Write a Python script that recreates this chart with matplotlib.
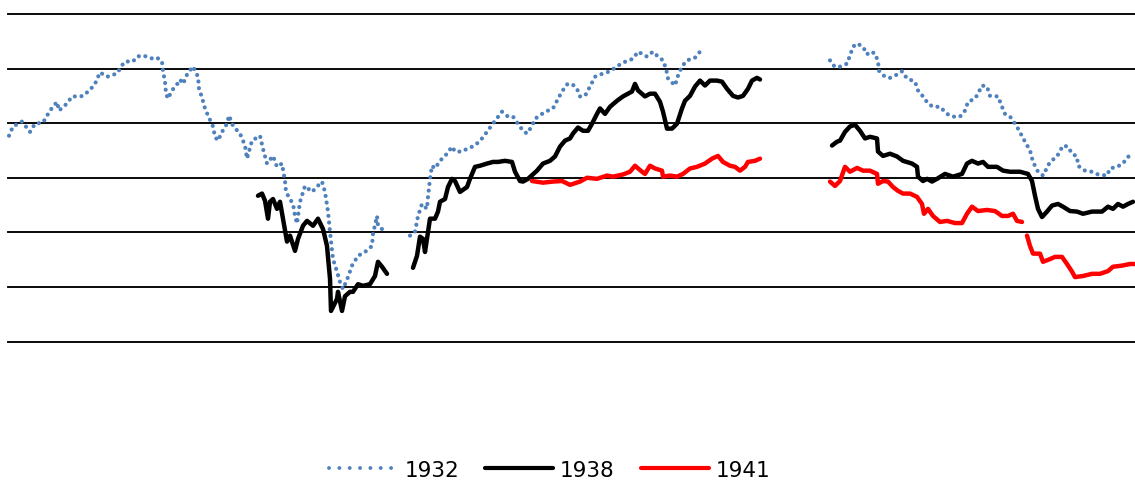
import numpy as np
import matplotlib
matplotlib.use("Agg")
import matplotlib.pyplot as plt
from matplotlib.lines import Line2D
from matplotlib import font_manager

nan = np.nan

# ---- data (day index, indexed level) ----
days_1932 = [1, 5, 14, 22, 27, 35, 42, 49, 51, 59, 64, 72, 75, 82, 87, 92, 99, 109, 114, 117,
             125, 129, 135, 145, 149, 154, 155, 157, 158, 160, 164, 169, 172, 175, 179, 185, 190,
             191, 194, 197, 200, 205, 207, 210, 214, 219, 221, 225, 232, 237, 239, 244, 252, 255,
             259, 265, 269, 274, 277, 278, 282, 285, 287, 289, 292, 297, 304, 314, 317, 320, 322,
             325, 329, 332, 335, 340, 344, 350, 357, 364, 365, 369, 370, 374, 377,
             390,
             402, 407, 410, 414, 419, 420, 422, 424, 427, 432, 439, 444, 447, 454, 459, 467, 474,
             479, 484, 494, 500, 505, 510, 515, 519, 524, 527, 534, 540, 545, 549, 554, 559, 564,
             569, 572, 577, 582, 587, 595, 602, 609, 615, 625, 630, 639, 645, 650, 655, 658, 660,
             667, 670, 674, 679, 687, 692,
             760,
             822, 825, 830, 839, 842, 845, 849, 855, 859, 862, 867, 870, 871, 877, 882, 889, 894,
             899, 907, 910, 915, 920, 925, 932, 939, 945, 952, 957, 960, 967, 970, 974, 979, 982,
             990, 994, 997, 1002, 1005, 1010, 1017, 1022, 1025, 1030, 1035, 1042, 1049, 1055, 1060,
             1064, 1069, 1070, 1077, 1084, 1090, 1099, 1102, 1109, 1115, 1119, 1125]
vals_1932 = [107.7, 109.4, 110.3, 108.4, 109.9, 110.1, 112.3, 113.9, 112.3, 113.6, 114.9, 114.9,
             115.0, 116.1, 117.2, 119.3, 118.5, 119.1, 120.6, 121.3, 121.3, 122.2, 122.4, 121.8,
             122.0, 121.3, 119.5, 117.6, 115.4, 114.5, 116.0, 117.1, 118.0, 117.2, 118.9, 120.4,
             118.5, 116.3, 114.7, 112.7, 111.4, 109.4, 107.5, 106.8, 108.4, 109.9, 111.4, 109.5,
             108.1, 105.9, 103.5, 106.8, 107.7, 105.3, 102.6, 104.0, 102.0, 102.6, 99.4, 97.4,
             96.1, 95.2, 93.0, 91.6, 95.6, 98.5, 97.4, 99.3, 97.4, 93.8, 90.1, 85.1, 82.8, 80.9,
             79.6, 81.8, 83.9, 85.7, 86.4, 87.5, 89.7, 93.0, 91.2, 90.6, 90.1,
             nan,
             89.4, 90.1, 93.0, 95.2, 94.3, 96.5, 99.8, 102.2, 101.7, 103.1, 104.4, 105.7, 104.8,
             104.8, 105.3, 105.9, 107.2, 108.4, 109.7, 112.1, 111.2, 111.2, 109.9, 108.6, 108.1,
             109.5, 110.8, 111.7, 112.3, 112.7, 114.1, 115.8, 117.1, 117.2, 116.3, 114.9, 115.0,
             116.7, 118.5, 119.1, 119.5, 120.4, 121.1, 121.8, 123.1, 122.2, 123.1, 122.2, 121.5,
             120.0, 118.2, 116.9, 118.7, 120.4, 121.5, 122.0, 123.1,
             nan,
             121.5, 120.6, 120.2, 120.9, 122.4, 124.0, 124.6, 124.0, 122.6, 123.1, 122.8, 121.3,
             119.6, 118.5, 118.3, 118.9, 119.5, 118.2, 117.6, 116.0, 114.9, 113.6, 113.0, 113.0,
             111.7, 111.2, 111.2, 112.3, 113.9, 114.5, 115.4, 116.9, 116.7, 115.0, 114.9, 113.0,
             111.7, 111.2, 110.5, 109.0, 106.6, 105.0, 102.9, 101.1, 100.4, 102.9, 103.9, 105.9,
             105.7, 104.4, 103.9, 102.2, 101.3, 101.1, 100.6, 100.4, 101.7, 102.0, 102.6, 103.7,
             104.4]

days_1938 = [250, 254, 257, 260, 262, 265, 269, 272, 275, 279, 282, 287, 290, 295, 299, 305, 310,
             315, 319, 322, 323, 329, 330, 334, 337, 342, 345, 350, 355, 362, 367, 370, 374, 379,
             392,
             405, 409, 412, 415, 417, 420, 422, 427, 430, 432, 437, 440, 444, 447, 452, 459, 462,
             467, 472, 479, 485, 490, 497, 504, 507, 512, 515, 520, 529, 535, 542, 547, 552, 557,
             562, 565, 570, 575, 580, 584, 589, 592, 597, 602, 609, 615, 624, 627, 630, 637, 642,
             647, 652, 655, 659, 664, 669, 674, 677, 682, 687, 692, 697, 702, 709, 714, 719, 725,
             730, 735, 740, 744, 749, 752,
             790,
             824, 829, 832, 837, 842, 847, 852, 857, 862, 869, 870, 875, 882, 889, 895, 904, 909,
             910, 915, 919, 924, 929, 937, 945, 954, 959, 964, 970, 975, 980, 989, 995, 1002, 1012,
             1020, 1024, 1027, 1030, 1034, 1039, 1044, 1050, 1055, 1062, 1069, 1075, 1084, 1094,
             1100, 1105, 1110, 1115, 1120, 1125]
vals_1938 = [96.7, 97.1, 95.8, 92.5, 95.6, 96.1, 94.3, 95.6, 92.5, 88.3, 89.4, 86.6, 88.8, 91.2,
             92.1, 91.2, 92.5, 90.6, 87.5, 81.5, 75.6, 77.8, 79.1, 75.6, 78.3, 79.1, 79.1, 80.5,
             80.2, 80.5, 82.0, 84.6, 83.7, 82.4,
             nan,
             83.5, 85.7, 89.2, 88.8, 86.4, 90.1, 92.5, 92.5, 93.8, 95.6, 96.1, 98.3, 99.8, 99.4,
             97.4, 98.3, 99.8, 102.0, 102.2, 102.6, 102.9, 102.9, 103.1, 102.9, 101.1, 99.4, 99.3,
             99.8, 101.3, 102.6, 103.1, 103.9, 105.7, 106.8, 107.2, 108.1, 109.2, 108.6, 108.6,
             109.9, 111.7, 112.7, 111.7, 113.0, 114.1, 114.9, 115.8, 117.2, 116.0, 114.9, 115.4,
             115.4, 113.9, 112.1, 109.0, 109.0, 109.9, 112.7, 114.1, 115.0, 116.7, 117.8, 116.9,
             117.8, 117.8, 117.6, 116.3, 115.0, 114.7, 115.0, 116.3, 117.8, 118.3, 118.0,
             nan,
             105.9, 106.6, 106.8, 108.4, 109.4, 109.7, 108.6, 107.2, 107.5, 107.2, 104.8, 104.0,
             104.4, 103.9, 103.1, 102.6, 102.0, 100.2, 99.4, 99.8, 99.3, 99.8, 100.7, 100.2,
             100.7, 102.6, 103.1, 102.6, 102.9, 102.0, 102.0, 101.3, 101.1, 101.1, 100.7, 99.4,
             96.7, 94.3, 92.8, 93.8, 94.9, 95.2, 94.7, 93.9, 93.8, 93.4, 93.8, 93.8, 94.7, 94.3,
             95.2, 94.7, 95.2, 95.6]

days_1941 = [524, 535, 545, 554, 562, 572, 579, 589, 599, 605, 615, 622, 627, 634, 637, 642, 647,
             654, 655, 662, 669, 675, 682, 689, 697, 704, 710, 715, 722, 727, 732, 737, 740, 747,
             752,
             790,
             822, 827, 832, 837, 842, 849, 855, 862, 869, 870, 875, 880, 885, 890, 895, 902, 909,
             914, 916, 920, 925, 932, 939, 947, 954, 959, 964, 970, 979, 987, 994, 1000, 1005,
             1009, 1014,
             1017,
             1019, 1022, 1025, 1032, 1035, 1042, 1047, 1054, 1059, 1064, 1067, 1075, 1084, 1092,
             1100, 1105, 1114, 1122, 1127]
vals_1941 = [99.4, 99.1, 99.3, 99.4, 98.7, 99.3, 100.0, 99.8, 100.4, 100.2, 100.6, 101.1, 102.2,
             101.1, 100.7, 102.2, 101.7, 101.3, 100.2, 100.4, 100.2, 100.7, 101.7, 102.0, 102.6,
             103.5, 104.0, 102.9, 102.2, 102.0, 101.3, 102.0, 102.9, 103.1, 103.5,
             nan,
             99.3, 98.5, 99.4, 102.0, 101.1, 101.8, 101.3, 101.3, 100.7, 98.9, 99.4, 99.3, 98.3,
             97.6, 97.1, 97.1, 96.5, 95.2, 93.4, 94.3, 93.0, 91.9, 92.1, 91.7, 91.7, 93.4, 94.7,
             93.9, 94.1, 93.9, 93.0, 93.0, 93.4, 92.1, 91.9,
             nan,
             89.4, 87.5, 86.1, 86.1, 84.6, 85.1, 85.5, 85.5, 84.2, 82.8, 81.8, 82.0, 82.4, 82.4,
             82.9, 83.7, 83.9, 84.2, 84.2]

series_labels = ["1932", "1938", "1941"]
grid_levels = [70, 80, 90, 100, 110, 120, 130]

# ---- styling ----
BLUE = "#4F81BD"
BLACK = "#000000"
RED = "#FF0000"

names = {f.name for f in font_manager.fontManager.ttflist}
narrow = [n for n in ["Liberation Sans Narrow", "DejaVu Sans Condensed"] if n in names]
LEGEND_FAMILY = narrow + ["DejaVu Sans"]

fig = plt.figure(figsize=(11.35, 4.85), dpi=100)
W, H = 1135, 485
ax = fig.add_axes([8 / W, (H - 342.5) / H, (1135 - 8) / W, (342.5 - 15) / H])
ax.set_xlim(0, 1127)
ax.set_ylim(70, 130)
ax.axis("off")

for g in grid_levels:
    ax.axhline(g, color="#000000", lw=1.35, zorder=1, clip_on=False)

ax.plot(days_1932, vals_1932, color=BLUE, lw=3.0, linestyle=(0, (0.01, 1.6)),
        dash_capstyle="round", zorder=3, clip_on=False)
ax.plot(days_1938, vals_1938, color=BLACK, lw=3.2, solid_joinstyle="round",
        solid_capstyle="round", zorder=4, clip_on=False)
ax.plot(days_1941, vals_1941, color=RED, lw=3.2, solid_joinstyle="round",
        solid_capstyle="round", zorder=5, clip_on=False)

handles = [
    Line2D([], [], color=BLUE, lw=2.8, linestyle=(0, (0.01, 2.65)), dash_capstyle="round"),
    Line2D([], [], color=BLACK, lw=3.0, solid_capstyle="round"),
    Line2D([], [], color=RED, lw=3.0, solid_capstyle="round"),
]
size = 19 if narrow and narrow[0] == "Liberation Sans Narrow" else 15.5
px = size * 100 / 72
fig.legend(handles, series_labels, loc="center", bbox_to_anchor=(550 / W, 1 - 471 / H),
           ncol=3, frameon=False, handlelength=68 / px,
           handletextpad=7 / px, columnspacing=26 / px,
           prop={"family": LEGEND_FAMILY, "size": size})

fig.savefig("out.png", dpi=100)
